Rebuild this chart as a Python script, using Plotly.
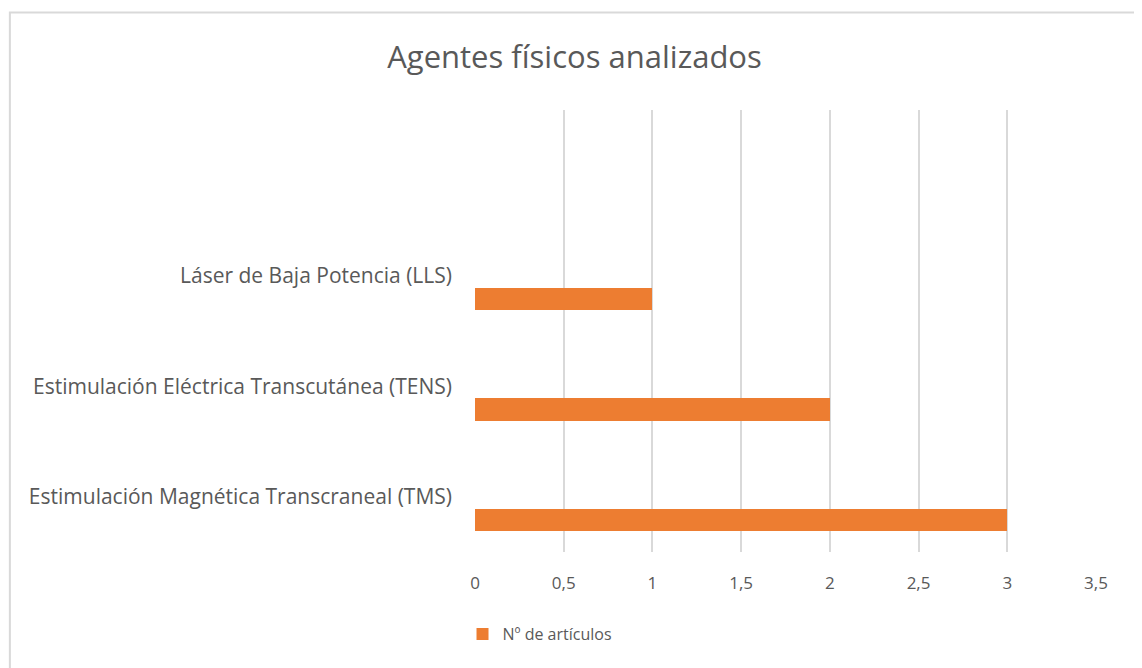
import plotly.graph_objects as go

categories = [
    "Estimulación Magnética Transcraneal (TMS)",
    "Estimulación Eléctrica Transcutánea (TENS)",
    "Láser de Baja Potencia (LLS)",
]
axis_categories = categories + [" "]
values = [3, 2, 1]
series_name = "Nº de artículos"
title_text = "Agentes físicos analizados"
x_ticks = [0, 0.5, 1, 1.5, 2, 2.5, 3, 3.5]

FONT = "Open Sans"
TXT = "#595959"
GRID = "#D9D9D9"
ORANGE = "#ED7D31"

W, H = 1134, 660
ML, MR, MT, MB = 466.5, 46, 102, 116
PW = W - ML - MR
PH = H - MT - MB

fig = go.Figure()
fig.add_trace(go.Bar(
    y=categories, x=values, orientation="h", name=series_name,
    marker=dict(color=ORANGE, line=dict(width=0)),
    width=0.2, offset=-0.31,
))

fig.update_layout(
    width=W, height=H,
    margin=dict(l=ML, r=MR, t=MT, b=MB, autoexpand=False),
    paper_bgcolor="white", plot_bgcolor="white",
    separators=", ",
    title=dict(text=title_text, x=566.5 / W, xref="container", xanchor="center",
               y=1 - 49 / H, yref="container", yanchor="middle",
               font=dict(family=FONT, size=31, color=TXT)),
    font=dict(family=FONT, color=TXT, size=18),
    showlegend=True,
    legend=dict(x=(454 - ML) / PW, xanchor="left", y=(PH - (634 - 8 - MT)) / PH, yanchor="middle",
                orientation="h", font=dict(family=FONT, size=16, color=TXT),
                itemwidth=30, bgcolor="rgba(0,0,0,0)"),
    bargap=0,
)
fig.update_xaxes(range=[0, 3.5], tickvals=x_ticks, showgrid=True, gridcolor=GRID, gridwidth=1.5,
                 zeroline=False, showline=False, ticks="", ticklabelstandoff=19,
                 tickfont=dict(family=FONT, size=17, color=TXT), fixedrange=True)
fig.update_yaxes(type="category", categoryorder="array", categoryarray=axis_categories,
                 range=[-0.5, 3.5], showgrid=False, zeroline=False, showline=False, ticks="",
                 ticklabelstandoff=22, tickfont=dict(family=FONT, size=21, color=TXT))

# chart-area border
fig.add_shape(type="rect", xref="paper", yref="paper",
              x0=(1 - ML) / PW, x1=(1133 - ML) / PW,
              y0=(PH - (H + 20 - MT)) / PH, y1=(PH - (4.5 - MT)) / PH,
              line=dict(color=GRID, width=2), fillcolor="rgba(0,0,0,0)", layer="below")

fig.write_html("out.html")
